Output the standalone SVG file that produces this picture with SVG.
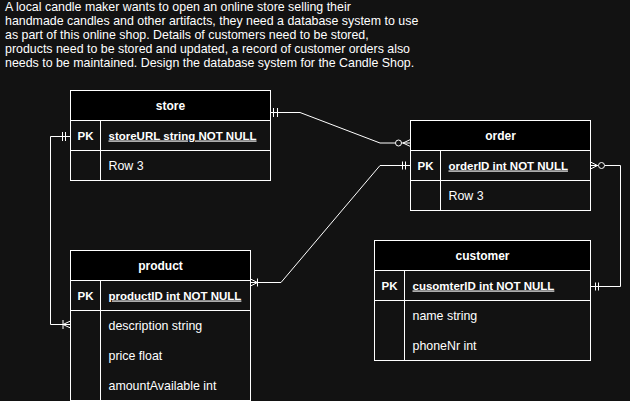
<svg xmlns="http://www.w3.org/2000/svg" width="630" height="401" viewBox="0 0 630 401">
<style>
text{font-family:"Liberation Sans",Arial,Helvetica,sans-serif;font-size:12.4px;fill:#ffffff}
.h{font-weight:bold;text-anchor:middle;font-size:12px}
.pk{font-weight:bold;text-anchor:middle;font-size:11.5px}
.pkf{font-weight:bold;text-decoration:underline;font-size:11.5px}
.box{fill:none;stroke:#ffffff;stroke-width:1}
.hdr{fill:#000000;stroke:#ffffff;stroke-width:1}
.ln{fill:none;stroke:#ffffff;stroke-width:1}
.circ{fill:#121212;stroke:#ffffff;stroke-width:1}
</style>
<rect x="0" y="0" width="630" height="401" fill="#121212"/>
<g id="title">
<text x="5" y="11">A local candle maker wants to open an online store selling their</text>
<text x="5" y="25">handmade candles and other artifacts, they need a database system to use</text>
<text x="5" y="39">as part of this online shop. Details of customers need to be stored,</text>
<text x="5" y="53">products need to be stored and updated, a record of customer orders also</text>
<text x="5" y="67">needs to be maintained. Design the database system for the Candle Shop.</text>
</g>
<g id="connectors">
<path class="ln" d="M270.5 112.5 H300 L380 143 H395.5"/>
<path class="ln" d="M273.5 108 V117 M277.5 108 V117"/>
<path class="ln" d="M401.5 143 H410.5 M403 143 L410.5 139.5 M403 143 L410.5 146.5"/>
<circle class="circ" cx="398.5" cy="143" r="3"/>
<path class="ln" d="M70.5 136.5 H50.5 V324.5 H70.5"/>
<path class="ln" d="M62.5 132 V141 M65.5 132 V141"/>
<path class="ln" d="M63 320 V329 M63 324.5 L70.5 321 M63 324.5 L70.5 328"/>
<path class="ln" d="M250.5 282.5 H281 L380 165.5 H410.5"/>
<path class="ln" d="M402.5 161.5 V169.5 M405.5 161.5 V169.5"/>
<path class="ln" d="M257.5 278.5 V286.5 M257.5 282.5 L250.5 279 M257.5 282.5 L250.5 286"/>
<path class="ln" d="M604.5 165.5 H620.5 V286.5 H590.5"/>
<path class="ln" d="M590.5 165.5 H598.5 M597.5 165.5 L590.5 162 M597.5 165.5 L590.5 169"/>
<circle class="circ" cx="601.5" cy="165.5" r="3"/>
<path class="ln" d="M595.5 282.5 V290.5 M598.5 282.5 V290.5"/>
</g>
<g id="store">
<rect class="hdr" x="70.5" y="90.5" width="200" height="30"/>
<rect class="box" x="70.5" y="120.5" width="200" height="60"/>
<path class="ln" d="M70.5 150.5 H270.5 M100.5 120.5 V180.5"/>
<text class="h" x="170.5" y="109.5">store</text>
<text class="pk" x="85.5" y="139.5">PK</text>
<text class="pkf" x="108.5" y="139.5">storeURL string NOT NULL</text>
<text x="108.5" y="169.5">Row 3</text>
</g>
<g id="order">
<rect class="hdr" x="410.5" y="120.5" width="180" height="30"/>
<rect class="box" x="410.5" y="150.5" width="180" height="60"/>
<path class="ln" d="M410.5 180.5 H590.5 M440.5 150.5 V210.5"/>
<text class="h" x="500.5" y="139.5">order</text>
<text class="pk" x="425.5" y="169.5">PK</text>
<text class="pkf" x="448.5" y="169.5">orderID int NOT NULL</text>
<text x="448.5" y="199.5">Row 3</text>
</g>
<g id="product">
<rect class="hdr" x="70.5" y="250.5" width="180" height="30"/>
<rect class="box" x="70.5" y="280.5" width="180" height="120"/>
<path class="ln" d="M70.5 310.5 H250.5 M100.5 280.5 V400.5"/>
<text class="h" x="160.5" y="269.5">product</text>
<text class="pk" x="85.5" y="299.5">PK</text>
<text class="pkf" x="108.5" y="299.5">productID int NOT NULL</text>
<text x="108.5" y="329.5">description string</text>
<text x="108.5" y="359.5">price float</text>
<text x="108.5" y="389.5">amountAvailable int</text>
</g>
<g id="customer">
<rect class="hdr" x="374.5" y="240.5" width="216" height="30"/>
<rect class="box" x="374.5" y="270.5" width="216" height="90"/>
<path class="ln" d="M374.5 300.5 H590.5 M404.5 270.5 V360.5"/>
<text class="h" x="482.5" y="259.5">customer</text>
<text class="pk" x="389.5" y="289.5">PK</text>
<text class="pkf" x="412.5" y="289.5">cusomterID int NOT NULL</text>
<text x="412.5" y="319.5">name string</text>
<text x="412.5" y="349.5">phoneNr int</text>
</g>
</svg>
